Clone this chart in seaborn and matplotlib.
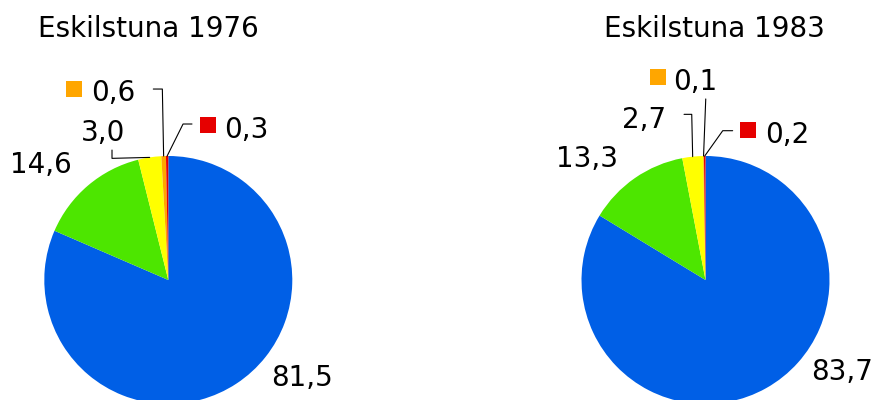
import numpy as np
import matplotlib
matplotlib.use("Agg")
import matplotlib.pyplot as plt
import seaborn as sns

# data (percent shares, Eskilstuna)
years = [1976, 1983]
shares_1976 = [81.5, 14.6, 3.0, 0.6, 0.3]
shares_1983 = [83.7, 13.3, 2.7, 0.1, 0.2]
slice_colors = ["#005FE6", "#4DE600", "#FFFF00", "#FFA600", "#E60000"]

# label placement per slice, in pie-radius units: (text x, text y baseline, leader elbow points)
layout_1976 = [
    dict(text=(1.078, -0.855)),
    dict(text=(-1.027, 0.863)),
    dict(text=(-0.527, 1.117), leader=[(-0.454, 0.981), (-0.454, 1.048)]),
    dict(text=(-0.446, 1.440), square=(-0.764, 1.540), leader=[(-0.048, 1.540), (-0.121, 1.540)]),
    dict(text=(0.632, 1.145), square=(0.318, 1.248), leader=[(0.119, 1.258), (0.191, 1.258)]),
]
layout_1983 = [
    dict(text=(1.101, -0.806)),
    dict(text=(-0.952, 0.915)),
    dict(text=(-0.496, 1.226), leader=[(-0.111, 1.336), (-0.173, 1.336)]),
    dict(text=(-0.081, 1.532), square=(-0.381, 1.635), leader=[(0.002, 1.460)]),
    dict(text=(0.657, 1.105), square=(0.345, 1.210), leader=[(0.139, 1.204), (0.219, 1.204)]),
]

sns.set_theme(style="white")
plt.rcParams["font.family"] = ["DejaVu Sans"]

W, H, R = 879, 400, 124.0  # pixels, pie radius in px
fig = plt.figure(figsize=(W / 100, H / 100), dpi=100)


def draw_pie(left_px, right_px, cx, cy, shares, layout, year, title_x):
    ax = fig.add_axes([left_px / W, 0, (right_px - left_px) / W, 1])
    wedges, _ = ax.pie(shares, colors=slice_colors, startangle=90, counterclock=False,
                       radius=1.0, wedgeprops=dict(linewidth=0))
    ax.set_aspect("auto")
    ax.set_xlim((left_px - cx) / R, (right_px - cx) / R)
    ax.set_ylim((cy - H) / R, cy / R)
    ax.axis("off")

    for val, w, lay in zip(shares, wedges, layout):
        label = f"{val:.1f}".replace(".", ",")
        tx, ty = lay["text"]
        ax.text(tx, ty, label, ha="center", va="baseline", fontsize=20, color="black")
        if "square" in lay:
            sx, sy = lay["square"]
            ax.scatter([sx], [sy], marker="s", s=135, color=w.get_facecolor(),
                       linewidths=0, zorder=5, clip_on=False)
        if "leader" in lay:
            mid = np.deg2rad((w.theta1 + w.theta2) / 2)
            pts = [(np.cos(mid), np.sin(mid))] + lay["leader"]
            xs, ys = zip(*pts)
            ax.plot(xs, ys, color="black", linewidth=0.8, clip_on=False)

    fig.text(title_x / W, 1 - 36.7 / H, f"Eskilstuna {year}", ha="center",
             va="baseline", fontsize=20, color="black")


draw_pie(0, 440, 168.3, 280, shares_1976, layout_1976, years[0], 148.5)
draw_pie(440, 879, 705.5, 280, shares_1983, layout_1983, years[1], 714)

fig.savefig("out.png", dpi=100, facecolor="white")
